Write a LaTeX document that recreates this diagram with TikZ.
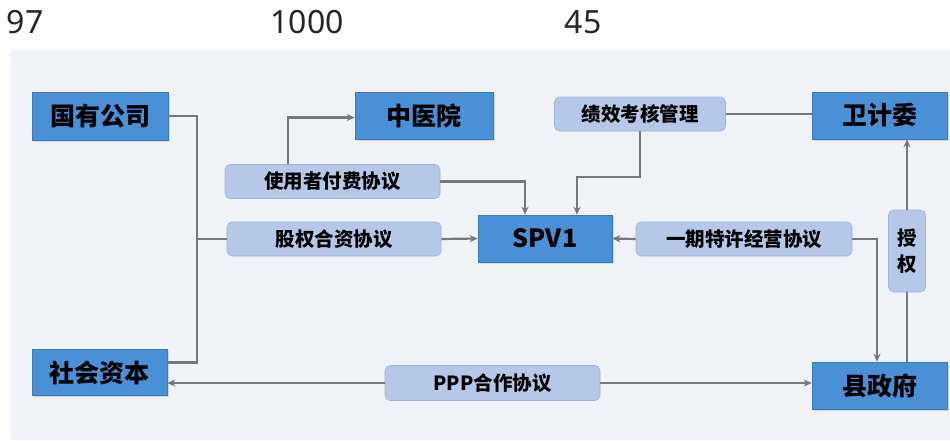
\documentclass[tikz,border=0pt]{standalone}
\usepackage{fontspec}
\setmainfont{Noto Sans}
\newfontfamily\cjk{Noto Sans CJK SC}
\usetikzlibrary{arrows.meta,shadows}
\definecolor{panelbg}{RGB}{239,242,247}
\definecolor{darkbox}{RGB}{74,144,214}
\definecolor{lightbox}{RGB}{182,200,232}
\definecolor{lightedge}{RGB}{160,180,215}
\definecolor{conn}{RGB}{120,120,120}
\tikzset{
  bigbox/.style={fill=darkbox, draw=darkbox!85!black, line width=0.6pt, drop shadow={opacity=0.25, shadow xshift=1.5pt, shadow yshift=-1.5pt},
    font=\cjk\bfseries\fontsize{25}{28}\selectfont, text=black, inner sep=0pt, align=center},
  smallbox/.style={fill=lightbox, draw=lightedge, line width=0.6pt, rounded corners=5pt,
    font=\cjk\bfseries\fontsize{19.5}{22}\selectfont, text=black, inner sep=0pt, align=center},
  wire/.style={draw=conn, line width=2.2pt},
  arr/.style={wire, -{Stealth[length=8pt,width=7pt]}},
  topnum/.style={font=\fontsize{32}{34}\selectfont, text=black!85, inner sep=0pt}
}
\begin{document}
\begin{tikzpicture}[x=1pt,y=-1pt]
\useasboundingbox (0,0) rectangle (950,440);
\fill[white] (0,0) rectangle (950,440);
\fill[panelbg] (10,50) rectangle (950,440);
% top numbers
\node[topnum] (n97) at (25,22) {97};
\node[topnum] (n1000) at (307,22) {1000};
\node[topnum] (n45) at (583,22) {45};
% dark boxes
\node[bigbox, minimum width=136pt, minimum height=48pt] (gy) at (100,116) {国有公司};
\node[bigbox, minimum width=138pt, minimum height=47pt] (zyy) at (424,115.5) {中医院};
\node[bigbox, minimum width=135pt, minimum height=47pt] (wjw) at (879.5,115.5) {卫计委};
\node[bigbox, minimum width=134pt, minimum height=47pt] (spv) at (545,238.5) {SPV1};
\node[bigbox, minimum width=135pt, minimum height=46pt] (shzb) at (99.5,372.5) {社会资本};
\node[bigbox, minimum width=135pt, minimum height=47pt] (xzf) at (879.5,385.5) {县政府};
% light boxes
\node[smallbox, minimum width=215pt, minimum height=34pt] (syz) at (332.5,181.5) {使用者付费协议};
\node[smallbox, minimum width=214pt, minimum height=34pt] (gq) at (334,239) {股权合资协议};
\node[smallbox, minimum width=171pt, minimum height=34pt] (jx) at (640,114) {绩效考核管理};
\node[smallbox, minimum width=216pt, minimum height=34pt] (yq) at (744,239) {一期特许经营协议};
\node[smallbox, minimum width=37pt, minimum height=82pt, font=\cjk\bfseries\fontsize{19.5}{26}\selectfont] (sq) at (907,251) {授\\权};
\node[smallbox, minimum width=215pt, minimum height=35pt] (ppp) at (492.5,383) {PPP合作协议};
% connectors
\coordinate (j) at (197,239);
\draw[wire] (gy.east) -| (j);
\draw[wire] ([yshift=10pt]shzb.east) -| (j);
\draw[wire] (j) -- (gq.west);
\draw[arr] (gq.east) -- (spv.west);
\draw[arr] ([xshift=-44.5pt]syz.north) |- ([yshift=-2pt]zyy.west);
\draw[arr] (syz.east) -| ([xshift=-20pt]spv.north);
\draw[arr] (jx.south) -- ++(0,46) -| ([xshift=32pt]spv.north);
\draw[wire] (jx.east) -- (jx.east -| wjw.west);
\draw[arr] (yq.west) -- (spv.east);
\draw[arr] (yq.east) -| ([xshift=-2.5pt]xzf.north);
\draw[wire] (sq.south) -- (sq.south |- xzf.north);
\draw[arr] (sq.north) -- (sq.north |- wjw.south);
\draw[arr] (ppp.west) -- (ppp.west -| shzb.east);
\draw[arr] (ppp.east) -- (ppp.east -| xzf.west);
\end{tikzpicture}
\end{document}
